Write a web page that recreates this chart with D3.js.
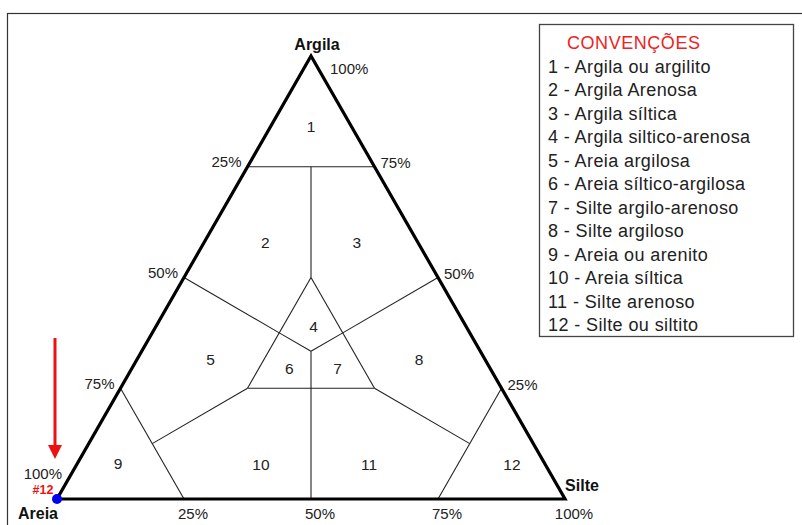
<!DOCTYPE html>
<html><head><meta charset="utf-8">
<script src="https://cdn.jsdelivr.net/npm/d3@7"></script>
<style>body{margin:0;background:#fff}svg{display:block;font-family:Arial,"Liberation Sans",sans-serif}</style>
</head><body><svg id="c" width="802" height="525"></svg>
<script>
// ---- data (ternary compositions: [areia, silte, argila]) ----
const vertexNames = ["Areia", "Silte", "Argila"];
const tickValues = [25, 50, 75, 100];
const regionIds = [1,2,3,4,5,6,7,8,9,10,11,12];
const regionCenters = [
  [0.08,0.08,0.84],[0.30,0.12,0.58],[0.12,0.30,0.58],[0.30,0.31,0.39],
  [0.54,0.145,0.315],[0.395,0.31,0.295],[0.30,0.405,0.295],[0.13,0.555,0.315],
  [0.84,0.08,0.08],[0.56,0.363,0.077],[0.347,0.576,0.077],[0.066,0.857,0.077]
];
const boundaries = [
  [[0.25,0,0.75],[0,0.25,0.75]],
  [[0.125,0.125,0.75],[0.25,0.25,0.5]],
  [[0.25,0.25,0.5],[0.5,0.25,0.25]],
  [[0.5,0.25,0.25],[0.25,0.5,0.25]],
  [[0.25,0.5,0.25],[0.25,0.25,0.5]],
  [[0.5,0,0.5],[0.375,0.25,0.375]],
  [[0.375,0.25,0.375],[1/3,1/3,1/3]],
  [[0,0.5,0.5],[0.25,0.375,0.375]],
  [[0.25,0.375,0.375],[1/3,1/3,1/3]],
  [[1/3,1/3,1/3],[0.5,0.5,0]],
  [[0.75,0,0.25],[0.75,0.25,0]],
  [[0.75,0.125,0.125],[0.5,0.25,0.25]],
  [[0,0.75,0.25],[0.25,0.75,0]],
  [[0.125,0.75,0.125],[0.25,0.5,0.25]]
];
const legendTitle = "CONVENÇÕES";
const legendItems = [
  "1 - Argila ou argilito","2 - Argila Arenosa","3 - Argila síltica",
  "4 - Argila siltico-arenosa","5 - Areia argilosa","6 - Areia síltico-argilosa",
  "7 - Silte argilo-arenoso","8 - Silte argiloso","9 - Areia ou arenito",
  "10 - Areia síltica","11 - Silte arenoso","12 - Silte ou siltito"
];
const samplePoint = {label:"#12", comp:[1,0,0]};

// ---- drawing ----
const svg = d3.select("#c");
const xs = d3.scaleLinear().domain([0,1]).range([57,565]);
const ys = d3.scaleLinear().domain([0,1]).range([499,56]);
const P = c => { const t = c[0]+c[1]+c[2]; const s=c[1]/t, a=c[2]/t; return [xs(s + a/2), ys(a)]; };

// outer frame
svg.append("rect").attr("x",7.5).attr("y",13.5).attr("width",820).attr("height",540)
  .attr("fill","none").attr("stroke","#333").attr("stroke-width",1.2);

const g = svg.append("g");
const line = d3.line();
g.selectAll("path.b").data(boundaries).join("path").attr("class","b")
  .attr("d", d => line(d.map(P))).attr("fill","none").attr("stroke","#222").attr("stroke-width",1.1);

// triangle outline
const corners = [[1,0,0],[0,1,0],[0,0,1]];
g.append("path").attr("d", line(corners.map(P)) + "Z")
  .attr("fill","none").attr("stroke","#000").attr("stroke-width",3.2).attr("stroke-linejoin","miter");

// region numbers
g.selectAll("text.r").data(regionIds).join("text").attr("class","r")
  .attr("x",(d,i)=>P(regionCenters[i])[0]).attr("y",(d,i)=>P(regionCenters[i])[1])
  .attr("text-anchor","middle").attr("dominant-baseline","central")
  .attr("font-size",15.5).attr("fill","#222").text(d=>d);

const tickFont = 15;
// left edge: areia %
g.selectAll("text.tl").data(tickValues).join("text").attr("class","tl")
  .attr("x", d => P([d/100,0,1-d/100])[0] - (d===100?-5:6))
  .attr("y", d => P([d/100,0,1-d/100])[1] - (d===100?26:5))
  .attr("text-anchor","end").attr("dominant-baseline","central")
  .attr("font-size",tickFont).attr("fill","#222").text(d=>d+"%");
// right edge: argila %
g.selectAll("text.tr").data(tickValues).join("text").attr("class","tr")
  .attr("x", d => P([0,1-d/100,d/100])[0] + (d===100?19:6))
  .attr("y", d => P([0,1-d/100,d/100])[1] + (d===100?12:-4))
  .attr("text-anchor","start").attr("dominant-baseline","central")
  .attr("font-size",tickFont).attr("fill","#222").text(d=>d+"%");
// bottom edge: silte %
g.selectAll("text.tb").data(tickValues).join("text").attr("class","tb")
  .attr("x", d => P([1-d/100,d/100,0])[0] + 9)
  .attr("y", d => P([1-d/100,d/100,0])[1] + 14)
  .attr("text-anchor","middle").attr("dominant-baseline","central")
  .attr("font-size",tickFont).attr("fill","#222").text(d=>d+"%");

// vertex names
const vOff = [[-19,14],[17,-14],[6,-12]];
g.selectAll("text.v").data(vertexNames).join("text").attr("class","v")
  .attr("x",(d,i)=>P(corners[i])[0]+vOff[i][0]).attr("y",(d,i)=>P(corners[i])[1]+vOff[i][1])
  .attr("text-anchor","middle").attr("dominant-baseline","central")
  .attr("font-size",16).attr("font-weight","bold").attr("fill","#111").text(d=>d);

// sample point + arrow
const sp = P(samplePoint.comp);
svg.append("circle").attr("cx",sp[0]).attr("cy",sp[1]).attr("r",5).attr("fill","#0000ee");
svg.append("text").attr("x",sp[0]-14).attr("y",sp[1]-9).attr("text-anchor","middle")
  .attr("dominant-baseline","central").attr("font-size",12.5).attr("font-weight","bold")
  .attr("fill","#ee1111").text(samplePoint.label);
svg.append("line").attr("x1",55).attr("y1",338).attr("x2",55).attr("y2",446)
  .attr("stroke","#ee1111").attr("stroke-width",3);
svg.append("path").attr("d","M48,445 L62,445 L55,459 Z").attr("fill","#ee1111");

// legend
const lg = svg.append("g");
lg.append("rect").attr("x",539.5).attr("y",24.5).attr("width",254).attr("height",312)
  .attr("fill","#fff").attr("stroke","#444").attr("stroke-width",1.3);
lg.append("text").attr("x",567).attr("y",43).attr("dominant-baseline","central")
  .attr("font-size",18).attr("fill","#ee2222").attr("textLength",133).text(legendTitle);
lg.selectAll("text.li").data(legendItems).join("text").attr("class","li")
  .attr("x",548).attr("y",(d,i)=>67+i*23.45).attr("dominant-baseline","central")
  .attr("font-size",18).attr("letter-spacing",0.4).attr("fill","#222").text(d=>d);
</script></body></html>
